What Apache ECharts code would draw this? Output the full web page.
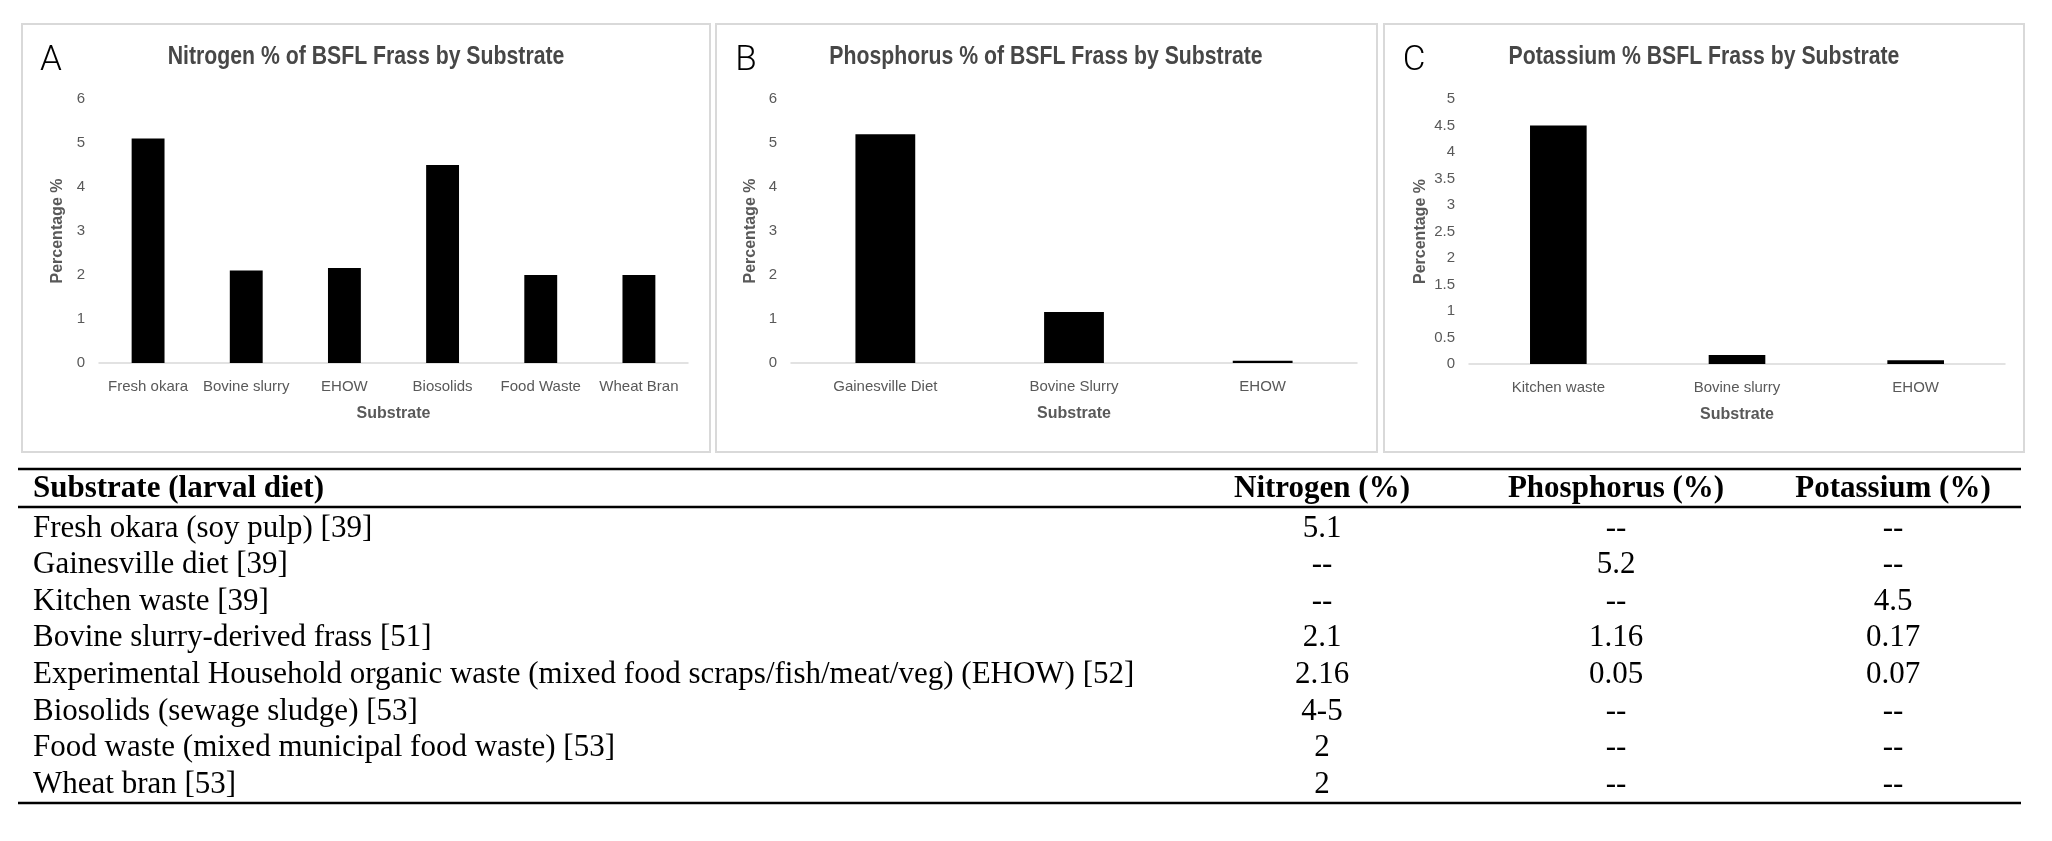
<!DOCTYPE html>
<html>
<head>
<meta charset="utf-8">
<title>BSFL Frass NPK by Substrate</title>
<script src="https://cdn.jsdelivr.net/npm/echarts@6/dist/echarts.min.js"></script>
<style>
  html, body { margin: 0; padding: 0; background: #fff; }
  #main { width: 2052px; height: 841px; }
</style>
</head>
<body>
<div id="main"></div>
<script>
// --- chart data ---
var nitrogenCats = ['Fresh okara', 'Bovine slurry', 'EHOW', 'Biosolids', 'Food Waste', 'Wheat Bran'];
var nitrogenVals = [5.1, 2.1, 2.16, 4.5, 2, 2];

var phosphorusCats = ['Gainesville Diet', 'Bovine Slurry', 'EHOW'];
var phosphorusVals = [5.2, 1.16, 0.05];

var potassiumCats = ['Kitchen waste', 'Bovine slurry', 'EHOW'];
var potassiumVals = [4.5, 0.17, 0.07];

var panelLetters = ['A', 'B', 'C'];
var panelTitles = [
  'Nitrogen % of BSFL Frass by Substrate',
  'Phosphorus % of BSFL Frass by Substrate',
  'Potassium % BSFL Frass by Substrate'
];

// --- table data ---
var tableHeader = ['Substrate (larval diet)', 'Nitrogen (%)', 'Phosphorus (%)', 'Potassium (%)'];
var tableSubstrates = [
  'Fresh okara (soy pulp) [39]',
  'Gainesville diet [39]',
  'Kitchen waste [39]',
  'Bovine slurry-derived frass [51]',
  'Experimental Household organic waste (mixed food scraps/fish/meat/veg) (EHOW) [52]',
  'Biosolids (sewage sludge) [53]',
  'Food waste (mixed municipal food waste) [53]',
  'Wheat bran [53]'
];
var tableNitrogen = ['5.1', '--', '--', '2.1', '2.16', '4-5', '2', '2'];
var tablePhosphorus = ['--', '5.2', '--', '1.16', '0.05', '--', '--', '--'];
var tablePotassium = ['--', '--', '4.5', '0.17', '0.07', '--', '--', '--'];

// --- layout ---
var sans = "'Liberation Sans', Arial, sans-serif";
var serif = "'Liberation Serif', 'Times New Roman', serif";
var grey = '#595959';

var panels = [
  { cats: nitrogenCats, vals: nitrogenVals, box: [22, 24, 688, 428], grid: [99, 99, 589, 264],
    letterX: 51, titleX: 366, max: 6, interval: 1, nameGap: 33 },
  { cats: phosphorusCats, vals: phosphorusVals, box: [716, 24, 661, 428], grid: [791, 99, 566, 264],
    letterX: 746, titleX: 1046, max: 6, interval: 1, nameGap: 32 },
  { cats: potassiumCats, vals: potassiumVals, box: [1384, 24, 640, 428], grid: [1469, 99, 536, 265],
    letterX: 1414, titleX: 1704, max: 5, interval: 0.5, nameGap: 40 }
];

var tableLeft = 18, tableRight = 2021;
var textLeft = 33;
var colX = [1322, 1616, 1893];
var ruleY = [469, 507, 803];
var headerY = 489;
var rowY0 = 528.5, rowStep = 36.6;

var grids = [], xAxes = [], yAxes = [], series = [], graphic = [];

panels.forEach(function (p, i) {
  grids.push({ left: p.grid[0], top: p.grid[1], width: p.grid[2], height: p.grid[3] });
  xAxes.push({
    type: 'category', gridIndex: i, data: p.cats,
    name: 'Substrate', nameLocation: 'middle', nameGap: 43,
    nameTextStyle: { fontFamily: sans, fontWeight: 'bold', fontSize: 16, color: grey },
    axisLine: { lineStyle: { color: '#d9d9d9', width: 1.5 } },
    axisTick: { show: false },
    axisLabel: { interval: 0, margin: 16, fontFamily: sans, fontSize: 15, color: grey }
  });
  yAxes.push({
    type: 'value', gridIndex: i, min: 0, max: p.max, interval: p.interval,
    name: 'Percentage %', nameLocation: 'middle', nameGap: p.nameGap,
    nameTextStyle: { fontFamily: sans, fontWeight: 'bold', fontSize: 16, color: grey },
    axisLine: { show: false }, axisTick: { show: false },
    splitLine: { show: false },
    axisLabel: { margin: 14, fontFamily: sans, fontSize: 15, color: grey }
  });
  series.push({
    type: 'bar', xAxisIndex: i, yAxisIndex: i, data: p.vals,
    barWidth: i === 0 ? '33.5%' : '31.7%',
    itemStyle: { color: '#000' }, silent: true
  });

  graphic.push({
    type: 'rect', silent: true,
    shape: { x: p.box[0], y: p.box[1], width: p.box[2], height: p.box[3] },
    style: { fill: 'none', stroke: '#d9d9d9', lineWidth: 2 }
  });
  graphic.push({
    type: 'text', silent: true, x: p.letterX, y: 61,
    style: { text: panelLetters[i], fill: '#000', font: '300 35px Roboto, sans-serif',
      align: 'center', verticalAlign: 'middle' }
  });
  // title font is a narrow bold face, squeeze a regular bold one
  graphic.push({
    type: 'text', silent: true, x: p.titleX, y: 57, scaleX: 0.85,
    style: { text: panelTitles[i], fill: '#474747', font: 'bold 25px ' + sans,
      align: 'center', verticalAlign: 'middle' }
  });
});

// table rules
ruleY.forEach(function (y) {
  graphic.push({
    type: 'rect', silent: true,
    shape: { x: tableLeft, y: y - 1.25, width: tableRight - tableLeft, height: 2.5 },
    style: { fill: '#000' }
  });
});

// header
tableHeader.forEach(function (h, c) {
  graphic.push({
    type: 'text', silent: true, x: c === 0 ? textLeft : colX[c - 1], y: headerY,
    style: { text: h, fill: '#000', font: 'bold 31px ' + serif,
      align: c === 0 ? 'left' : 'center', verticalAlign: 'middle' }
  });
});

// rows
tableSubstrates.forEach(function (s, r) {
  var y = rowY0 + r * rowStep;
  var cells = [s, tableNitrogen[r], tablePhosphorus[r], tablePotassium[r]];
  cells.forEach(function (t, c) {
    graphic.push({
      type: 'text', silent: true, x: c === 0 ? textLeft : colX[c - 1], y: y,
      style: { text: t, fill: '#000', font: '31px ' + serif,
        align: c === 0 ? 'left' : 'center', verticalAlign: 'middle' }
    });
  });
});

var chart = echarts.init(document.getElementById('main'));
chart.setOption({
  backgroundColor: '#fff',
  animation: false,
  grid: grids,
  xAxis: xAxes,
  yAxis: yAxes,
  series: series,
  graphic: graphic
});
</script>
</body>
</html>
